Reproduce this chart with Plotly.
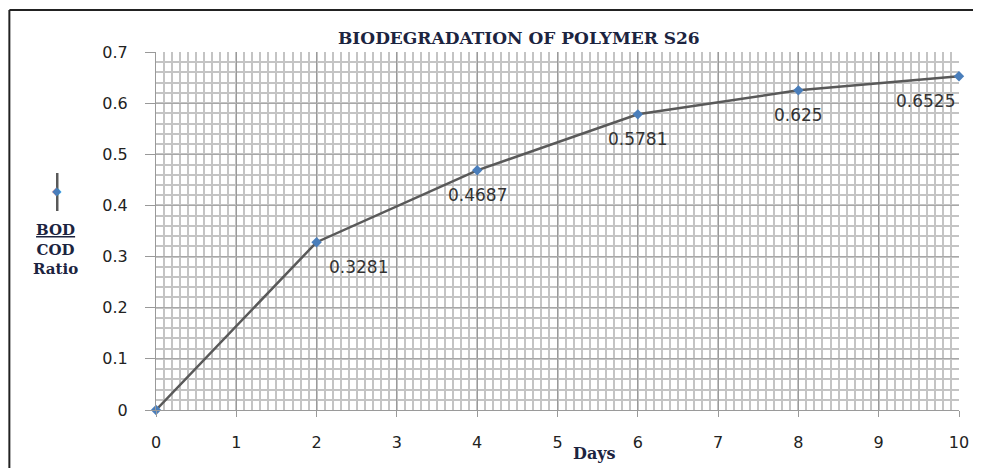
import plotly.graph_objects as go

days = [0, 2, 4, 6, 8, 10]
ratio = [0, 0.3281, 0.4687, 0.5781, 0.625, 0.6525]
label_text = ["", "0.3281", "0.4687", "0.5781", "0.625", "0.6525"]
x_ticks = [0, 1, 2, 3, 4, 5, 6, 7, 8, 9, 10]
y_ticks = [0, 0.1, 0.2, 0.3, 0.4, 0.5, 0.6, 0.7]
y_tick_labels = ["0", "0.1", "0.2", "0.3", "0.4", "0.5", "0.6", "0.7"]

# page is rendered with an 8px body margin, so figure coords = page coords - 8
OFF = 8
W, H = 981 - OFF, 468 - OFF
L, T = 156 - OFF, 52 - OFF
R = W - (961 - OFF)
B = H - (410 - OFF)
pw, ph = W - L - R, H - T - B

fig = go.Figure()
fig.add_trace(go.Scatter(
    x=days, y=ratio, mode="lines+markers",
    line=dict(color="#595959", width=2.5),
    marker=dict(symbol="diamond", size=8, color="#4A7EBB"),
    showlegend=False, hoverinfo="skip", cliponaxis=False))

anchors = ["center", "left", "center", "center", "center", "right"]
xshifts = [0, 10, 0, 0, 0, -2]
for xv, yv, t, a, xs in zip(days, ratio, label_text, anchors, xshifts):
    if t:
        fig.add_annotation(x=xv, y=yv, text=t, showarrow=False, xanchor=a,
                           yanchor="middle", xshift=xs, yshift=-25,
                           font=dict(family="DejaVu Sans", size=17, color="#333333"))

def px_x(p):
    return (p - OFF - L) / pw

def px_y(p):
    return (H - B - (p - OFF)) / ph

serif = "DejaVu Serif"
# title
fig.add_annotation(xref="paper", yref="paper", x=px_x(520), y=px_y(38),
                   text="<b>BIODEGRADATION OF POLYMER S26</b>", showarrow=False,
                   xanchor="center", yanchor="middle",
                   font=dict(family=serif, size=17, color="#1c2440"))
# x title
fig.add_annotation(xref="paper", yref="paper", x=px_x(596), y=px_y(453),
                   text="<b>Days</b>", showarrow=False, xanchor="center", yanchor="middle",
                   font=dict(family=serif, size=16, color="#1c2440"))
# y title
fig.add_annotation(xref="paper", yref="paper", x=px_x(55), y=px_y(249),
                   text="<b><u>BOD</u></b><br><b>COD</b><br><b>Ratio</b>", showarrow=False,
                   xanchor="center", yanchor="middle", align="center",
                   font=dict(family=serif, size=15, color="#1c2440"))
# legend key
fig.add_shape(type="line", xref="paper", yref="paper",
              x0=px_x(57), x1=px_x(57), y0=px_y(173), y1=px_y(211),
              line=dict(color="#595959", width=2.5))
fig.add_annotation(xref="paper", yref="paper", x=px_x(57), y=px_y(191),
                   text="◆", showarrow=False, xanchor="center", yanchor="middle",
                   font=dict(family="DejaVu Sans", size=12, color="#4A7EBB"))
# border (top and left)
fig.add_shape(type="line", xref="paper", yref="paper",
              x0=px_x(9), x1=px_x(990), y0=px_y(10), y1=px_y(10),
              line=dict(color="#222222", width=2))
fig.add_shape(type="line", xref="paper", yref="paper",
              x0=px_x(9), x1=px_x(9), y0=px_y(10), y1=px_y(480),
              line=dict(color="#222222", width=2))

fig.update_xaxes(range=[0, 10], tickvals=x_ticks, ticks="outside", ticklen=6,
                 tickcolor="#999999", ticklabelstandoff=12,
                 showgrid=True, gridcolor="#9a9a9a", gridwidth=1,
                 minor=dict(dtick=0.1, showgrid=True, gridcolor="#c4c4c4", gridwidth=1.5),
                 showline=True, linecolor="#9a9a9a", linewidth=1, zeroline=False,
                 tickfont=dict(family="DejaVu Sans", size=16, color="#222222"))
fig.update_yaxes(range=[0, 0.7], tickvals=y_ticks, ticktext=y_tick_labels,
                 ticks="outside", ticklen=10, tickcolor="#999999", ticklabelstandoff=14,
                 showgrid=True, gridcolor="#a8a8a8", gridwidth=1,
                 minor=dict(dtick=0.02, showgrid=True, gridcolor="#c4c4c4", gridwidth=1.5),
                 showline=True, linecolor="#9a9a9a", linewidth=1, zeroline=False,
                 tickfont=dict(family="DejaVu Sans", size=16, color="#222222"))

fig.update_layout(width=W, height=H, margin=dict(l=L, r=R, t=T, b=B),
                  plot_bgcolor="white", paper_bgcolor="white")
fig.write_html("out.html")
